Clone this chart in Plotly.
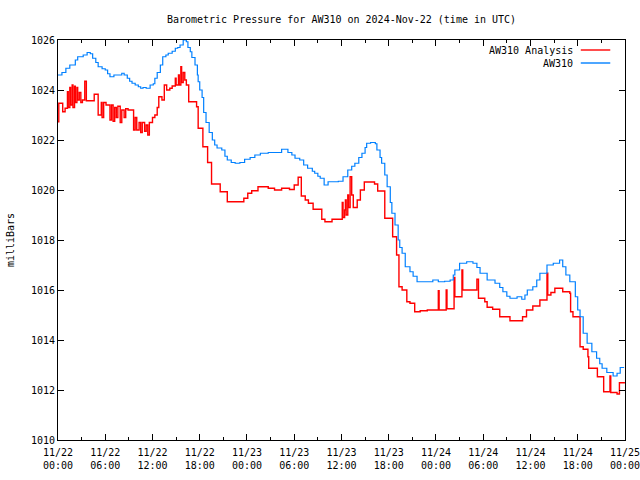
import pandas as pd
import plotly.graph_objects as go

START = "2024-11-22 00:00"

# AW310 (hours since start, millibars)
aw_hours = [0.0, 0.5, 1.0, 1.5, 2.2, 2.5, 3.2, 3.7, 4.1, 4.4, 4.8, 5.1, 5.6, 6.0, 6.3, 6.6,
            7.1, 7.5, 8.1, 8.4, 8.8, 9.1, 9.4, 9.8, 10.2, 10.5, 10.8, 11.2, 11.7, 12.1, 12.3,
            12.6, 13.0, 13.3, 13.7, 14.0, 14.5, 14.9, 15.2, 15.5, 15.9, 16.3, 16.5, 16.8,
            17.0, 17.4, 17.7, 17.8, 18.0, 18.3, 18.5, 18.8, 19.2, 19.6, 19.9, 20.2, 20.8,
            21.2, 21.5, 22.0, 22.5, 23.1, 23.7, 24.4, 25.0, 25.7, 26.7, 27.6, 28.4, 29.2,
            29.7, 30.1, 30.7, 31.2, 31.7, 32.3, 32.6, 33.0, 33.3, 33.8, 34.3, 35.0, 35.6,
            36.2, 36.8, 37.3, 37.7, 38.2, 38.6, 39.0, 39.2, 39.7, 40.3, 40.5, 40.9, 41.1,
            41.5, 41.8, 42.2, 42.4, 42.8, 43.2, 43.4, 43.7, 44.1, 44.7, 45.1, 45.6, 46.9,
            47.6, 48.3, 49.1, 49.8, 50.2, 50.4, 51.0, 51.9, 52.7, 53.2, 53.6, 54.5, 55.5,
            56.1, 56.5, 57.0, 57.4, 58.3, 58.9, 59.3, 59.6, 60.3, 60.8, 61.2, 62.1, 62.9,
            63.4, 63.7, 64.1, 64.5, 65.0, 65.7, 66.0, 66.3, 66.7, 67.2, 67.8, 68.4, 68.8,
            69.1, 69.7, 70.5, 71.0, 71.4, 71.9]
aw_values = [1024.6, 1024.7, 1024.87, 1025.0, 1025.2, 1025.33, 1025.4, 1025.5, 1025.45, 1025.27,
             1025.1, 1024.93, 1024.85, 1024.8, 1024.65, 1024.53, 1024.6, 1024.6, 1024.67,
             1024.6, 1024.47, 1024.35, 1024.27, 1024.2, 1024.13, 1024.07, 1024.1, 1024.07,
             1024.2, 1024.25, 1024.47, 1024.7, 1025.0, 1025.33, 1025.4, 1025.47, 1025.55,
             1025.67, 1025.7, 1025.8, 1026.0, 1025.93, 1025.7, 1025.53, 1025.3, 1025.0,
             1024.6, 1024.33, 1024.0, 1023.7, 1023.1, 1022.7, 1022.3, 1022.0, 1021.8,
             1021.68, 1021.6, 1021.35, 1021.2, 1021.1, 1021.07, 1021.1, 1021.23, 1021.3,
             1021.4, 1021.47, 1021.5, 1021.5, 1021.63, 1021.5, 1021.4, 1021.27, 1021.2,
             1021.0, 1020.87, 1020.75, 1020.67, 1020.55, 1020.47, 1020.2, 1020.33, 1020.33,
             1020.35, 1020.53, 1020.8, 1020.95, 1021.07, 1021.3, 1021.47, 1021.7, 1021.87,
             1021.9, 1021.85, 1021.6, 1021.3, 1021.07, 1020.6, 1020.13, 1019.5, 1019.07,
             1018.6, 1018.0, 1017.7, 1017.47, 1016.93, 1016.73, 1016.55, 1016.33, 1016.33,
             1016.4, 1016.33, 1016.35, 1016.4, 1016.6, 1016.8, 1017.07, 1017.13, 1017.07,
             1016.9, 1016.67, 1016.4, 1016.27, 1016.1, 1015.93, 1015.75, 1015.67, 1015.73,
             1015.63, 1015.8, 1016.0, 1016.13, 1016.4, 1016.67, 1017.0, 1017.07, 1017.07,
             1017.2, 1016.93, 1016.6, 1016.33, 1015.73, 1015.2, 1014.93, 1014.27, 1013.87,
             1013.53, 1013.27, 1013.05, 1012.87, 1012.7, 1012.56, 1012.67, 1012.9, 1012.9]

# AW310 Analysis (hours since start, millibars)
an_hours = [0.0, 0.1, 0.6, 0.9, 1.2, 1.3, 1.5, 1.6, 1.8, 1.9, 2.1, 2.2, 2.4, 2.5, 2.7, 2.9,
            3.1, 3.4, 3.6, 4.6, 5.1, 5.5, 5.6, 5.8, 6.1, 6.6, 6.8, 7.0, 7.2, 7.4, 7.6, 7.9,
            8.1, 8.4, 8.6, 8.9, 9.6, 9.8, 10.0, 10.3, 10.5, 10.7, 11.0, 11.2, 11.4, 11.6,
            12.0, 12.3, 12.6, 12.8, 13.2, 13.5, 13.8, 14.2, 14.5, 14.9, 15.0, 15.3, 15.4,
            15.6, 15.7, 15.9, 16.1, 16.3, 16.6, 17.6, 17.8, 18.4, 19.0, 19.5, 20.6, 21.5,
            23.6, 24.1, 24.6, 25.4, 26.7, 27.5, 28.4, 29.4, 30.0, 30.5, 30.9, 31.4, 31.8,
            32.4, 33.5, 33.9, 34.8, 35.9, 36.1, 36.2, 36.4, 36.5, 36.6, 36.8, 36.9, 37.1,
            37.3, 37.5, 38.0, 38.4, 38.9, 40.2, 40.6, 41.5, 42.5, 43.0, 43.3, 43.7, 44.3,
            44.7, 45.3, 46.0, 46.9, 48.2, 48.3, 48.4, 49.3, 49.4, 50.3, 50.4, 51.3, 51.4,
            53.2, 53.4, 54.2, 54.5, 55.2, 56.1, 57.4, 59.0, 59.5, 60.3, 61.2, 62.1, 62.2,
            62.6, 63.1, 64.1, 65.0, 65.1, 65.4, 66.3, 66.7, 67.3, 67.4, 68.5, 69.3, 70.1,
            70.2, 71.0, 71.3, 72.0]
an_values = [1022.73, 1023.47, 1023.13, 1023.27, 1023.93, 1023.3, 1024.1, 1023.4, 1024.2,
             1023.3, 1024.15, 1023.5, 1024.1, 1023.6, 1023.9, 1023.5, 1023.6, 1024.35,
             1023.57, 1023.83, 1023.0, 1023.5, 1022.9, 1023.5, 1023.4, 1022.8, 1023.4,
             1022.75, 1023.3, 1022.9, 1023.35, 1022.7, 1023.2, 1022.9, 1023.25, 1023.2,
             1022.4, 1022.9, 1022.4, 1022.7, 1022.3, 1022.7, 1022.35, 1022.6, 1022.2,
             1022.7, 1022.9, 1023.0, 1023.3, 1023.73, 1023.6, 1024.2, 1024.0, 1024.07,
             1024.16, 1024.47, 1024.2, 1024.6, 1024.2, 1024.93, 1024.3, 1024.7, 1024.4,
             1024.2, 1023.53, 1023.33, 1022.47, 1021.73, 1021.1, 1020.24, 1019.93, 1019.53,
             1019.67, 1019.87, 1019.97, 1020.13, 1020.07, 1020.0, 1020.07, 1020.02, 1020.2,
             1020.51, 1019.76, 1019.6, 1019.47, 1019.23, 1018.83, 1018.73, 1018.83, 1018.83,
             1019.5, 1018.9, 1019.2, 1019.6, 1019.0, 1019.8, 1019.3, 1020.53, 1019.8, 1019.3,
             1019.6, 1020.0, 1020.32, 1020.24, 1019.96, 1018.87, 1018.13, 1017.4, 1016.13,
             1016.0, 1015.53, 1015.47, 1015.13, 1015.17, 1015.2, 1015.2, 1015.97, 1015.2,
             1016.0, 1015.25, 1016.5, 1015.73, 1016.8, 1016.0, 1016.43, 1015.67, 1015.53,
             1015.31, 1015.23, 1014.93, 1014.77, 1014.93, 1015.2, 1015.36, 1015.6, 1016.67,
             1015.8, 1015.9, 1016.07, 1015.93, 1015.87, 1015.13, 1014.93, 1013.73, 1013.63,
             1013.33, 1012.87, 1012.53, 1011.93, 1012.56, 1011.9, 1011.84, 1012.29, 1012.29]

y_ticks = [1010, 1012, 1014, 1016, 1018, 1020, 1022, 1024, 1026]

t0 = pd.Timestamp(START)
aw_t = [t0 + pd.Timedelta(hours=h) for h in aw_hours]
an_t = [t0 + pd.Timedelta(hours=h) for h in an_hours]

RED = "#ff0000"
BLUE = "#0080ff"
FONT = "DejaVu Sans Mono"

fig = go.Figure()
fig.add_trace(go.Scatter(x=an_t, y=an_values, mode="lines", name="AW310 Analysis",
                         line=dict(color=RED, width=1.4, shape="hv")))
fig.add_trace(go.Scatter(x=aw_t, y=aw_values, mode="lines", name="AW310",
                         line=dict(color=BLUE, width=1.2, shape="hv")))

tick_vals = [t0 + pd.Timedelta(hours=6 * i) for i in range(13)]
tick_text = [t.strftime("%m/%d<br>%H:%M") for t in tick_vals]

fig.update_layout(
    width=640, height=480,
    margin=dict(l=58, r=15, t=40, b=40),
    paper_bgcolor="white", plot_bgcolor="white",
    showlegend=False,
    font=dict(family=FONT, size=10, color="black"),
    title=dict(text="Barometric Pressure for AW310 on 2024-Nov-22 (time in UTC)",
               x=(58 + 567 / 2) / 640, xanchor="center", y=1 - 19 / 480, yanchor="middle",
               font=dict(family=FONT, size=10, color="black")),
    xaxis=dict(range=[t0, t0 + pd.Timedelta(hours=72, seconds=30)],
               tickvals=tick_vals, ticktext=tick_text, automargin=False,
               ticks="inside", ticklen=6, tickcolor="black", tickwidth=1,
               ticklabelstandoff=3, ticklabeloverflow="allow",
               minor=dict(ticks="inside", ticklen=3, dtick=3 * 3600000, tick0=START,
                          tickcolor="black"),
               showline=True, linecolor="black", linewidth=1, mirror="ticks",
               showgrid=False, zeroline=False,
               tickfont=dict(family=FONT, size=10, color="black")),
    yaxis=dict(range=[1010, 1026], tickvals=y_ticks, ticktext=[str(v) for v in y_ticks],
               automargin=False,
               ticks="inside", ticklen=6, tickcolor="black", tickwidth=1,
               showline=True, linecolor="black", linewidth=1, mirror="ticks",
               showgrid=False, zeroline=False,
               title=dict(text="milliBars", standoff=14,
                          font=dict(family=FONT, size=10, color="black")),
               tickfont=dict(family=FONT, size=10, color="black")),
)

# gnuplot-style legend (text, then sample line to its right)
legend_items = [("AW310 Analysis", RED, 0.975), ("AW310", BLUE, 0.9425)]
for label, color, ypos in legend_items:
    fig.add_annotation(x=0.912, y=ypos, xref="paper", yref="paper", text=label,
                       showarrow=False, xanchor="right", yanchor="middle",
                       font=dict(family=FONT, size=10, color="black"))
    fig.add_shape(type="line", xref="paper", yref="paper", x0=0.922, x1=0.974,
                  y0=ypos, y1=ypos, line=dict(color=color, width=1.4))

fig.write_html("out.html")
